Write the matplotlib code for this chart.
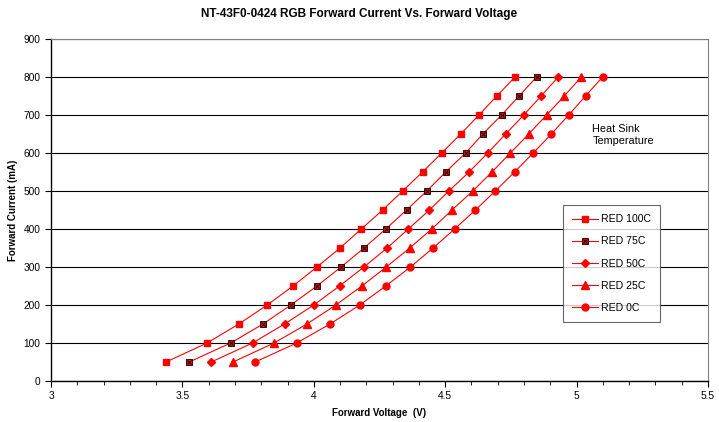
import numpy as np
import matplotlib.pyplot as plt
from matplotlib.legend_handler import HandlerTuple

plt.rcParams['font.family'] = ['Liberation Sans', 'DejaVu Sans']

# Prad (mA) - wspolny dla wszystkich serii
prad = [50, 100, 150, 200, 250, 300, 350, 400, 450, 500, 550, 600, 650, 700, 750, 800]

# Napiecie (V) dla kolejnych temperatur radiatora
v_100c = [3.438, 3.594, 3.715, 3.823, 3.921, 4.012, 4.100, 4.181, 4.262, 4.338, 4.414, 4.487, 4.559, 4.629, 4.696, 4.766]
v_75c = [3.526, 3.684, 3.807, 3.913, 4.012, 4.104, 4.191, 4.274, 4.353, 4.430, 4.502, 4.578, 4.643, 4.715, 4.781, 4.848]
v_50c = [3.610, 3.767, 3.889, 4.000, 4.098, 4.191, 4.279, 4.360, 4.440, 4.514, 4.591, 4.662, 4.730, 4.799, 4.865, 4.930]
v_25c = [3.693, 3.849, 3.974, 4.084, 4.183, 4.276, 4.365, 4.449, 4.526, 4.605, 4.678, 4.748, 4.818, 4.886, 4.953, 5.018]
v_0c = [3.777, 3.935, 4.062, 4.175, 4.274, 4.368, 4.454, 4.536, 4.615, 4.691, 4.764, 4.835, 4.904, 4.970, 5.034, 5.099]

fig = plt.figure(figsize=(7.19, 4.22), dpi=100)
ax = fig.add_axes([0.0709, 0.0972, 0.9138, 0.8104])

kolor = "#ff0000"
ax.yaxis.grid(True, color="black", linewidth=0.8)
ax.set_axisbelow(True)

h1, = ax.plot(v_100c, prad, color=kolor, lw=0.8, marker="s", ms=5, mfc=kolor, mec=kolor)
h2a, = ax.plot(v_75c, prad, color=kolor, lw=0.8, marker="s", ms=4.5, mfc=kolor, mec="black", mew=0.6)
h2b, = ax.plot(v_75c, prad, ls="none", marker="x", ms=3.0, mec="black", mew=0.7)
h3, = ax.plot(v_50c, prad, color=kolor, lw=0.8, marker="D", ms=4.2, mfc=kolor, mec=kolor)
h4, = ax.plot(v_25c, prad, color=kolor, lw=0.8, marker="^", ms=5.5, mfc=kolor, mec=kolor)
h5, = ax.plot(v_0c, prad, color=kolor, lw=0.8, marker="o", ms=5, mfc=kolor, mec=kolor)

ax.set_xlim(3, 5.5)
ax.set_ylim(0, 900)
ax.set_xticks(np.arange(3, 5.51, 0.5))
ax.set_xticklabels(["3", "3.5", "4", "4.5", "5", "5.5"])
ax.set_xticks(np.arange(3, 5.51, 0.1), minor=True)
ax.set_yticks(np.arange(0, 901, 100))
ax.tick_params(axis="both", labelsize=7.3, direction="out", length=4, width=0.8)
ax.tick_params(axis="x", which="minor", length=3, width=0.6)
ax.tick_params(axis="x", pad=3)

for s in ["top", "right"]:
    ax.spines[s].set_color("#808080")
    ax.spines[s].set_linewidth(0.8)
for s in ["left", "bottom"]:
    ax.spines[s].set_color("black")
    ax.spines[s].set_linewidth(1.0)

ax.set_xlabel("Forward Voltage  (V)", fontsize=7, fontweight="bold", labelpad=5)
ax.set_ylabel("Forward Current (mA)", fontsize=7, fontweight="bold")
ax.yaxis.set_label_coords(-0.05, 0.5)
fig.suptitle("NT-43F0-0424 RGB Forward Current Vs. Forward Voltage", fontsize=8.5,
             fontweight="bold", x=0.5, y=0.98)

ax.text(5.06, 647, "Heat Sink\nTemperature", fontsize=7.8, va="center", ha="left", linespacing=1.2)

leg = ax.legend([h1, (h2a, h2b), h3, h4, h5],
                ["RED 100C", "RED 75C", "RED 50C", "RED 25C", "RED 0C"],
                handler_map={tuple: HandlerTuple(ndivide=1, pad=0)},
                loc="upper left", bbox_to_anchor=(0.779, 0.515), borderaxespad=0,
                fontsize=7.6, frameon=True, fancybox=False, edgecolor="#404040",
                handlelength=2.4, labelspacing=1.15, borderpad=0.9, handletextpad=0.3)
leg.get_frame().set_linewidth(0.8)

plt.savefig("out.png", dpi=100)
